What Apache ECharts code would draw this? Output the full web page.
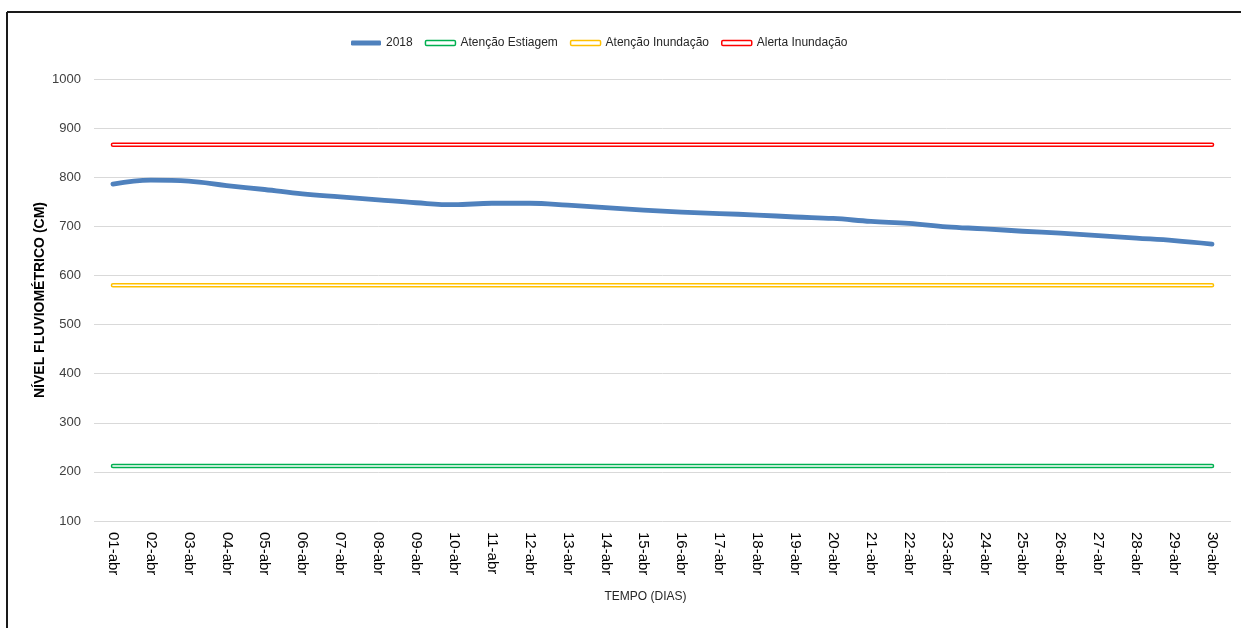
<!DOCTYPE html>
<html>
<head>
<meta charset="utf-8">
<script src="https://cdn.jsdelivr.net/npm/echarts@6/dist/echarts.min.js"></script>
<style>
html,body{margin:0;padding:0;background:#fff;}
#chart{width:1241px;height:628px;}
</style>
</head>
<body>
<div id="chart"></div>
<script>
const days = ['01-abr','02-abr','03-abr','04-abr','05-abr','06-abr','07-abr','08-abr','09-abr','10-abr',
  '11-abr','12-abr','13-abr','14-abr','15-abr','16-abr','17-abr','18-abr','19-abr','20-abr',
  '21-abr','22-abr','23-abr','24-abr','25-abr','26-abr','27-abr','28-abr','29-abr','30-abr'];
const nivel2018 = [786,794,792,783,775,766,760,754,748,744,
  747,747,743,738,733,729,726,723,719,716,
  710,706,699,695,690,686,681,676,671,664];
const atencaoEstiagem = 212;
const atencaoInundacao = 580;
const alertaInundacao = 866;
const yTicks = {min:100, max:1000, interval:100};

const names = ['2018','Atenção Estiagem','Atenção Inundação','Alerta Inundação'];
const colors = {'2018':'#4f81bd','Atenção Estiagem':'#00b050','Atenção Inundação':'#ffc000','Alerta Inundação':'#ff0000'};
const thresholds = [
  ['Atenção Estiagem', atencaoEstiagem],
  ['Atenção Inundação', atencaoInundacao],
  ['Alerta Inundação', alertaInundacao]
];

const sans = "'Liberation Sans', Arial, sans-serif";

const series = [];
thresholds.forEach(([n, v]) => {
  const d = days.map(() => v);
  series.push({name:n, type:'line', data:d, symbol:'none', silent:true,
    lineStyle:{color:colors[n], width:4.5, cap:'round'}, itemStyle:{color:colors[n]}, z:2});
  series.push({name:n + ' ', type:'line', data:d, symbol:'none', silent:true,
    lineStyle:{color:'#ffffff', width:1.6, cap:'round'}, itemStyle:{color:'#fff'}, z:3});
});
series.push({name:'2018', type:'line', data:nivel2018, symbol:'none', smooth:0.4,
  lineStyle:{color:colors['2018'], width:4.8, cap:'round', join:'round'}, itemStyle:{color:colors['2018']}, z:4});

const legendData = names.map(n => n === '2018'
  ? {name:n, icon:'roundRect', itemStyle:{color:colors[n], borderWidth:0}}
  : {name:n, icon:'roundRect', itemStyle:{color:'#ffffff', borderColor:colors[n], borderWidth:1.5}});

const chart = echarts.init(document.getElementById('chart'), null, {renderer:'canvas'});
chart.setOption({
  animation:false,
  backgroundColor:'#ffffff',
  grid:{left:94, right:10, top:79, bottom:107, containLabel:false},
  legend:{
    data:legendData, top:32, left:346, itemWidth:30, itemHeight:5, itemGap:12,
    textStyle:{fontFamily:sans, fontSize:12, color:'#262626'}
  },
  xAxis:{
    type:'category', data:days, boundaryGap:true,
    name:'TEMPO (DIAS)', nameLocation:'middle', nameGap:70, nameMoveOverlap:false,
    nameTextStyle:{fontFamily:sans, fontSize:12, color:'#262626', padding:[0,34,0,0]},
    axisLine:{show:false}, axisTick:{show:false},
    axisLabel:{rotate:-90, margin:11, interval:0, fontFamily:sans, fontSize:15, color:'#000'}
  },
  yAxis:{
    type:'value', min:yTicks.min, max:yTicks.max, interval:yTicks.interval,
    name:'NÍVEL FLUVIOMÉTRICO (CM)', nameLocation:'middle', nameGap:47, nameMoveOverlap:false,
    nameTextStyle:{fontFamily:sans, fontSize:14, fontWeight:'bold', color:'#000'},
    axisLine:{show:false}, axisTick:{show:false},
    axisLabel:{margin:13, fontFamily:sans, fontSize:13, color:'#404040', formatter:v => String(v)},
    splitLine:{lineStyle:{color:'#d9d9d9', width:1}}
  },
  graphic:[
    {type:'line', shape:{x1:7, y1:12, x2:1241, y2:12}, style:{stroke:'#1a1a1a', lineWidth:2}},
    {type:'line', shape:{x1:7, y1:12, x2:7, y2:628}, style:{stroke:'#1a1a1a', lineWidth:2}}
  ],
  series:series
});
</script>
</body>
</html>
